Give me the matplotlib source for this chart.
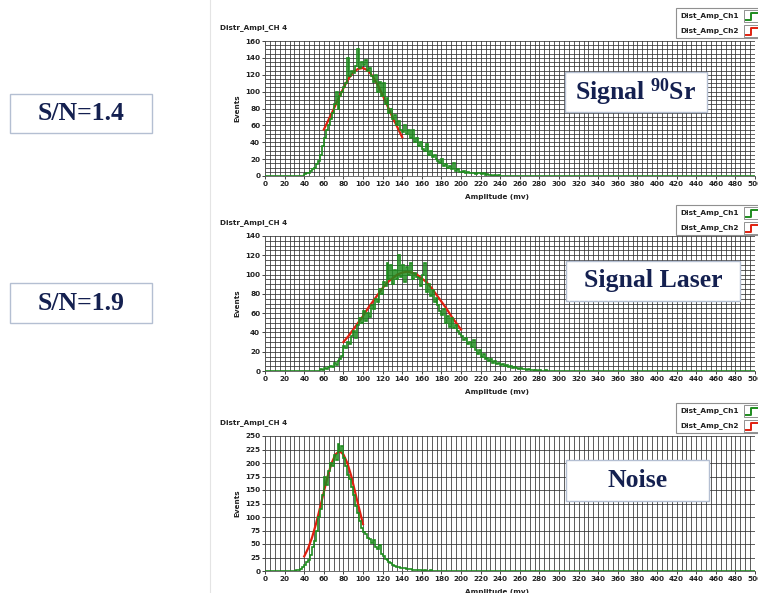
import numpy as np
import matplotlib
matplotlib.use("Agg")
import matplotlib.pyplot as plt
from matplotlib.ticker import MultipleLocator
from matplotlib.patches import Rectangle
from matplotlib.lines import Line2D

plt.rcParams["mathtext.fontset"] = "custom"
plt.rcParams["mathtext.rm"] = "Liberation Serif:bold"
plt.rcParams["mathtext.bf"] = "Liberation Serif:bold"
plt.rcParams["mathtext.default"] = "bf"

W, H = 758, 593
BIN = 2  # mV per histogram bin
X_MAX = 500

# --- data ------------------------------------------------------------------
# green histograms (Dist_Amp_Ch1), 2 mV bins starting at *_start; zero elsewhere
sr_start = 40
sr_counts = [2, 3, 4, 6, 8, 10, 14, 18, 25, 35, 45, 55, 60, 68, 75, 85, 100, 80, 95, 100,
             105, 110, 140, 118, 125, 122, 130, 150, 128, 135, 132, 138, 125, 128, 118, 112, 120, 100, 112, 95,
             110, 85, 92, 75, 80, 68, 72, 60, 65, 55, 52, 60, 50, 55, 45, 55, 40, 45, 35, 40,
             32, 30, 38, 25, 30, 22, 25, 20, 18, 15, 20, 12, 14, 10, 12, 8, 15, 6, 8, 5,
             5, 6, 4, 5, 3, 4, 3, 2, 3, 4, 2, 3, 1, 2, 1, 1, 0, 1, 0, 1]

laser_start = 56
laser_counts = [2, 1, 3, 2, 4, 5, 4, 8, 6, 10, 12, 16, 26, 24, 30, 28, 36, 42, 34, 48,
                55, 50, 62, 52, 60, 56, 68, 64, 75, 72, 85, 80, 92, 88, 112, 95, 110, 90, 105, 95,
                120, 98, 110, 92, 108, 100, 112, 95, 102, 98, 96, 88, 100, 112, 82, 90, 78, 84, 72, 76,
                68, 62, 58, 64, 50, 57, 46, 55, 45, 48, 42, 38, 36, 32, 34, 28, 30, 25, 32, 22,
                18, 22, 15, 18, 12, 14, 10, 12, 8, 10, 7, 8, 6, 7, 5, 6, 4, 5, 3, 4,
                3, 2, 3, 2, 2, 1, 2, 1, 1, 0, 1, 0, 1, 0, 0, 1, 0]

noise_start = 32
noise_counts = [1, 2, 4, 8, 12, 16, 20, 30, 45, 55, 75, 100, 115, 140, 175, 160, 185, 200, 195, 215,
                205, 235, 222, 232, 210, 195, 178, 170, 155, 140, 120, 108, 92, 80, 72, 68, 62, 60, 52, 58,
                45, 40, 48, 32, 28, 22, 20, 16, 14, 12, 10, 8, 7, 6, 5, 5, 4, 3, 3, 2,
                2, 1, 1, 1, 0, 1, 0, 0, 1]

# red fitted curves (Dist_Amp_Ch2)
sr_fit_x = [60, 65, 70, 75, 80, 85, 90, 95, 100, 105, 110, 115, 120, 125, 130, 135, 140]
sr_fit_y = [55, 67, 79, 92, 104, 115, 123, 127, 128, 125, 118, 108, 96, 83, 70, 58, 46]

laser_fit_x = [80, 85, 90, 95, 100, 105, 110, 115, 120, 125, 130, 135, 140,
               145, 150, 155, 160, 165, 170, 175, 180, 185, 190, 195, 200]
laser_fit_y = [30, 36, 43, 50, 57, 65, 72, 79, 86, 92, 96, 100, 102,
               103, 102, 100, 96, 92, 86, 79, 72, 65, 57, 50, 43]

noise_fit_x = [40, 44, 48, 52, 56, 60, 64, 68, 72, 76, 80, 84, 88, 92, 96, 100]
noise_fit_y = [27, 42, 62, 87, 116, 146, 176, 200, 216, 222, 216, 200, 176, 146, 116, 87]

panels = [
    dict(start=sr_start, counts=sr_counts, fx=sr_fit_x, fy=sr_fit_y, ymax=160, ystep=20, ygrid=5,
         top=41, bottom=176, label="Signal $^{90}$Sr", box=(565, 72, 707, 112), legend_y=8),
    dict(start=laser_start, counts=laser_counts, fx=laser_fit_x, fy=laser_fit_y, ymax=140, ystep=20, ygrid=5,
         top=236, bottom=371, label="Signal Laser", box=(566, 261, 740, 301), legend_y=205),
    dict(start=noise_start, counts=noise_counts, fx=noise_fit_x, fy=noise_fit_y, ymax=250, ystep=25, ygrid=25,
         top=436, bottom=571, label="Noise", box=(566, 460, 709, 501), legend_y=403),
]
sn_labels = ["S/N=1.4", "S/N=1.9"]
sn_boxes = [(10, 94, 152, 133), (10, 283, 152, 323)]

GREEN = "#1e8c1e"
RED = "#e0200f"
NAVY = "#142050"
SERIF = "Liberation Serif"


def fx(x):
    return x / W


def fy(y):
    return 1 - y / H


fig = plt.figure(figsize=(W / 100, H / 100), dpi=100)
fig.patch.set_facecolor("white")

# faint screenshot edge
fig.add_artist(Line2D([fx(210), fx(210)], [0, 1], color="#e4e4e4", lw=0.8, transform=fig.transFigure))


def text_box(box, text, size):
    x0, y0, x1, y1 = box
    fig.add_artist(Rectangle((fx(x0), fy(y1)), fx(x1 - x0), (y1 - y0) / H, transform=fig.transFigure,
                             facecolor="white", edgecolor="#b4bfd2", lw=1.0, zorder=5))
    fig.text(fx((x0 + x1) / 2), fy((y0 + y1) / 2), text, ha="center", va="center", fontsize=size,
             family=SERIF, weight="bold", color=NAVY, zorder=6)


def legend_box(y0):
    x0, x1 = 676, 762
    fig.add_artist(Rectangle((fx(x0), fy(y0 + 30)), fx(x1 - x0), 30 / H, transform=fig.transFigure,
                             facecolor="white", edgecolor="#909090", lw=0.8, zorder=5))
    for k, (name, col) in enumerate([("Dist_Amp_Ch1", GREEN), ("Dist_Amp_Ch2", RED)]):
        yc = y0 + 8 + k * 15
        fig.text(fx(680), fy(yc), name, ha="left", va="center", fontsize=5.3, weight="bold",
                 color="#202020", zorder=6)
        fig.add_artist(Rectangle((fx(744), fy(yc + 6)), fx(16), 12 / H, transform=fig.transFigure,
                                 facecolor="white", edgecolor="#808080", lw=0.6, zorder=6))
        fig.add_artist(Line2D([fx(746), fx(751), fx(751), fx(758)], [fy(yc + 4), fy(yc + 4), fy(yc - 3), fy(yc - 3)],
                              color=col, lw=1.4, transform=fig.transFigure, zorder=7))


for p in panels:
    ax = fig.add_axes([fx(265), fy(p["bottom"]), fx(490), (p["bottom"] - p["top"]) / H])
    n = len(p["counts"])
    edges = np.concatenate([[0], p["start"] + BIN * np.arange(n + 1), [X_MAX]])
    vals = np.concatenate([[0], p["counts"], [0]])
    ax.stairs(vals, edges, color=GREEN, lw=1.2, zorder=4)
    ax.plot(p["fx"], p["fy"], color=RED, lw=1.6, zorder=3)

    ax.set_xlim(0, X_MAX)
    ax.set_ylim(0, p["ymax"])
    ax.xaxis.set_major_locator(MultipleLocator(20))
    ax.xaxis.set_minor_locator(MultipleLocator(5))
    ax.yaxis.set_major_locator(MultipleLocator(p["ystep"]))
    ax.yaxis.set_minor_locator(MultipleLocator(p["ygrid"]))
    ax.grid(True, which="both", color="#303030", lw=0.55)
    ax.set_axisbelow(True)
    ax.tick_params(which="minor", length=0)
    ax.tick_params(which="major", length=2, width=0.6, pad=1.5, labelsize=5.2, colors="#222222")
    for lab in ax.get_xticklabels() + ax.get_yticklabels():
        lab.set_fontweight("bold")
    for s in ["top", "right"]:
        ax.spines[s].set_visible(False)
    ax.spines["left"].set_color("#555555")
    ax.spines["bottom"].set_color("#555555")
    ax.spines["left"].set_linewidth(0.6)
    ax.spines["bottom"].set_linewidth(0.6)

    mid = (p["top"] + p["bottom"]) / 2
    fig.text(fx(237), fy(mid), "Events", rotation=90, ha="center", va="center", fontsize=5.2, weight="bold",
             color="#222222")
    fig.text(fx(497), fy(p["bottom"] + 21), "Amplitude (mv)", ha="center", va="center", fontsize=5.2,
             weight="bold", color="#222222")
    fig.text(fx(220), fy(p["top"] - 13), "Distr_Ampl_CH 4", ha="left", va="center", fontsize=5.2,
             weight="bold", color="#222222")

    legend_box(p["legend_y"])
    text_box(p["box"], p["label"], 18.5)

for lab, box in zip(sn_labels, sn_boxes):
    text_box(box, lab, 18.5)

fig.savefig("out.png", dpi=100, facecolor="white")
